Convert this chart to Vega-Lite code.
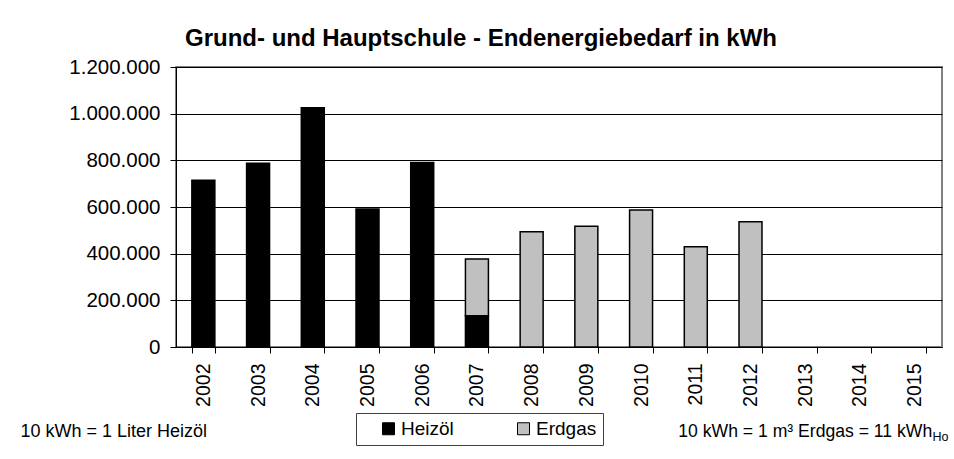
{
  "$schema": "https://vega.github.io/schema/vega-lite/v6.json",
  "width": 766,
  "height": 280,
  "autosize": "none",
  "padding": {"left": 176, "top": 67, "right": 12, "bottom": 112},
  "background": "white",
  "config": {
    "font": "Liberation Sans",
    "locale": {"number": {"decimal": ",", "thousands": ".", "grouping": [3], "currency": ["", " €"]}},
    "view": {"stroke": "#808080", "strokeWidth": 2},
    "axis": {"domainColor": "#000", "tickColor": "#000", "labelColor": "#000", "titleColor": "#000", "labelFont": "Liberation Sans", "titleFont": "Liberation Sans"}
  },
  "title": {
    "text": "Grund- und Hauptschule - Endenergiebedarf in kWh",
    "fontSize": 24,
    "fontWeight": "bold",
    "font": "Liberation Sans",
    "color": "#000",
    "anchor": "middle",
    "frame": "group",
    "dx": -78,
    "offset": 6
  },
  "layer": [
    {
      "data": {
        "values": [
          {"Jahr": "2002", "Energietraeger": "Heizöl", "kWh": 715000},
          {"Jahr": "2003", "Energietraeger": "Heizöl", "kWh": 788000},
          {"Jahr": "2004", "Energietraeger": "Heizöl", "kWh": 1025000},
          {"Jahr": "2005", "Energietraeger": "Heizöl", "kWh": 591000},
          {"Jahr": "2006", "Energietraeger": "Heizöl", "kWh": 791000},
          {"Jahr": "2007", "Energietraeger": "Heizöl", "kWh": 134000},
          {"Jahr": "2007", "Energietraeger": "Erdgas", "kWh": 243000},
          {"Jahr": "2008", "Energietraeger": "Erdgas", "kWh": 494000},
          {"Jahr": "2009", "Energietraeger": "Erdgas", "kWh": 518000},
          {"Jahr": "2010", "Energietraeger": "Erdgas", "kWh": 587000},
          {"Jahr": "2011", "Energietraeger": "Erdgas", "kWh": 430000},
          {"Jahr": "2012", "Energietraeger": "Erdgas", "kWh": 537000}
        ]
      },
      "mark": {"type": "bar", "stroke": "#000", "strokeWidth": 1.5},
      "encoding": {
        "x": {
          "field": "Jahr",
          "type": "ordinal",
          "scale": {
            "domain": ["2002", "2003", "2004", "2005", "2006", "2007", "2008", "2009", "2010", "2011", "2012", "2013", "2014", "2015"],
            "paddingInner": 0.58,
            "paddingOuter": 0.29
          },
          "axis": {
            "labelAngle": -90,
            "labelFontSize": 19.5,
            "labelPadding": 10,
            "tickSize": 6,
            "tickBand": "extent",
            "domainWidth": 1,
            "grid": false,
            "title": "10 kWh = 1 Liter Heizöl",
            "titleAngle": 0,
            "titleAlign": "left",
            "titleBaseline": "alphabetic",
            "titleX": -156,
            "titleY": 89.5,
            "titleFontSize": 18,
            "titleFontWeight": "normal"
          }
        },
        "y": {
          "field": "kWh",
          "type": "quantitative",
          "stack": "zero",
          "scale": {"domain": [0, 1200000], "nice": false},
          "axis": {
            "values": [0, 200000, 400000, 600000, 800000, 1000000, 1200000],
            "format": ",d",
            "labelFontSize": 20.5,
            "labelPadding": 10,
            "tickSize": 6,
            "grid": true,
            "gridColor": "#000",
            "gridWidth": 1,
            "gridOpacity": 1,
            "title": "10 kWh = 1 m³ Erdgas = 11 kWh",
            "titleAngle": 0,
            "titleAlign": "right",
            "titleBaseline": "alphabetic",
            "titleX": 755.7,
            "titleY": 369,
            "titleFontSize": 17.6,
            "titleFontWeight": "normal"
          }
        },
        "color": {
          "field": "Energietraeger",
          "type": "nominal",
          "scale": {"domain": ["Heizöl", "Erdgas"], "range": ["#000000", "#c0c0c0"]},
          "legend": {
            "title": null,
            "orient": "none",
            "legendX": 180,
            "legendY": 346,
            "direction": "horizontal",
            "strokeColor": "#404040",
            "fillColor": "#fff",
            "padding": 6,
            "symbolType": "square",
            "symbolSize": 144,
            "symbolStrokeColor": "#000",
            "symbolStrokeWidth": 1,
            "symbolOffset": 17,
            "labelFontSize": 19,
            "labelColor": "#000",
            "labelFont": "Liberation Sans",
            "labelOffset": 3,
            "columnPadding": 43
          }
        },
        "order": {"field": "Energietraeger", "sort": "descending"}
      }
    },
    {
      "data": {"values": [{}]},
      "mark": {"type": "rule", "opacity": 0},
      "encoding": {
        "y": {
          "datum": 0,
          "type": "quantitative",
          "scale": {"domain": [0, 1]},
          "axis": {
            "orient": "right",
            "domain": false,
            "ticks": false,
            "labels": false,
            "grid": false,
            "title": "Ho",
            "titleAngle": 0,
            "titleAlign": "left",
            "titleBaseline": "alphabetic",
            "titleX": -10,
            "titleY": 373,
            "titleFontSize": 12.5,
            "titleFontWeight": "normal"
          }
        }
      }
    }
  ],
  "resolve": {"scale": {"y": "independent"}}
}
